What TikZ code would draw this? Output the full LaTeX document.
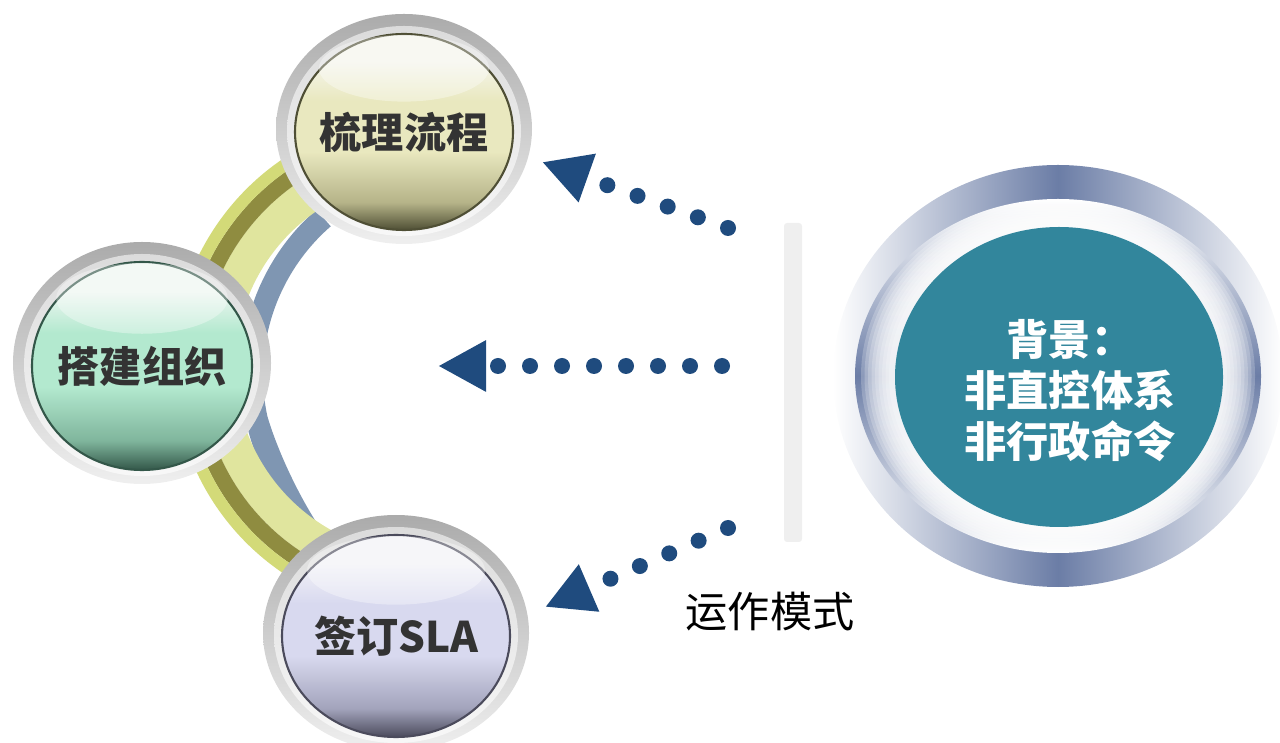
\documentclass[tikz,border=0pt]{standalone}
\usepackage{fontspec}
\newfontfamily\cjk{Noto Sans CJK SC}
\usetikzlibrary{shapes.geometric,arrows.meta}

\definecolor{dotblue}{HTML}{1F4B7E}
\definecolor{bandouter}{HTML}{D3DA78}
\definecolor{bandolive}{HTML}{8F8C40}
\definecolor{bandlight}{HTML}{E0E59E}
\definecolor{arcblue}{HTML}{7F96B2}
\definecolor{slate}{HTML}{6B7DA6}
\definecolor{tealcore}{HTML}{32869C}
\definecolor{bargray}{HTML}{EFEFEF}
\definecolor{textdark}{HTML}{333333}
\definecolor{rimdark}{HTML}{ABABAB}
\definecolor{rimlight}{HTML}{EFEFEF}
% ball colours: light, base, lower, dark
\definecolor{yl}{HTML}{F5F5EC}\definecolor{yb}{HTML}{E9E8BF}
\definecolor{ylo}{HTML}{B5B388}\definecolor{yd}{HTML}{4F4F35}
\definecolor{gl}{HTML}{EEF6F1}\definecolor{gb}{HTML}{B3E9CF}
\definecolor{glo}{HTML}{7FB59C}\definecolor{gd}{HTML}{335749}
\definecolor{ll}{HTML}{F2F2F7}\definecolor{lb}{HTML}{D8D9EF}
\definecolor{llo}{HTML}{A2A3BB}\definecolor{ld}{HTML}{4B4B5C}

\pgfdeclareverticalshading{glassyellow}{100bp}{color(0bp)=(yd); color(25bp)=(yd);
  color(32bp)=(ylo); color(45bp)=(yb); color(58bp)=(yb); color(68bp)=(yl); color(100bp)=(yl)}
\pgfdeclareverticalshading{glassgreen}{100bp}{color(0bp)=(gd); color(25bp)=(gd);
  color(32bp)=(glo); color(45bp)=(gb); color(58bp)=(gb); color(68bp)=(gl); color(100bp)=(gl)}
\pgfdeclareverticalshading{glasslilac}{100bp}{color(0bp)=(ld); color(25bp)=(ld);
  color(32bp)=(llo); color(45bp)=(lb); color(58bp)=(lb); color(68bp)=(ll); color(100bp)=(ll)}

\tikzset{
  ballrim/.style={ellipse, inner sep=0pt, top color=rimdark, bottom color=rimlight},
  ballring/.style={ellipse, inner sep=0pt, top color=black!14, bottom color=black!3},
  ballcore/.style={ellipse, inner sep=0pt, line width=0.6pt},
  ballgloss/.style={ellipse, inner sep=0pt, fill=white, fill opacity=0.35},
  balltext/.style={font=\cjk\bfseries\fontsize{12pt}{14pt}\selectfont, text=textdark},
  bgring/.style={ellipse, inner sep=0pt},
  bgtext/.style={font=\cjk\bfseries\fontsize{12pt}{14.5pt}\selectfont, text=white, align=center},
  modefont/.style={font=\cjk\fontsize{12pt}{14pt}\selectfont, text=black},
  dotarrow/.style={draw=dotblue, line width=0.16cm, line cap=round,
    dash pattern=on 0pt off 0.32cm, -{Triangle[length=0.48cm,width=0.48cm]}}
}

% #1 name, (#2,#3) centre, #4/#5 radii, #6 shading, #7 edge colour, #8 text
\def\glassball(#1,#2,#3,#4,#5,#6,#7,#8){
  \node[ballrim, minimum width=2*#4cm+0.38cm, minimum height=2*#5cm+0.34cm, yshift=0.03cm] (#1_rim) at (#2,#3) {};
  \node[ballring, minimum width=2*#4cm+0.16cm, minimum height=2*#5cm+0.14cm, yshift=0.01cm] (#1_ring) at (#2,#3) {};
  \node[ballcore, shading=#6, draw=#7, minimum width=2*#4cm, minimum height=2*#5cm] (#1) at (#2,#3) {};
  \node[ballgloss, minimum width=1.56*#4cm, minimum height=0.68*#5cm] (#1_gloss) at (#2,#3+0.65*#5) {};
  \node[balltext] (#1_text) at (#2,#3) {#8};
}

\begin{document}
\begin{tikzpicture}
\useasboundingbox (0,0) rectangle (12.8,-7.43);

% arc behind the balls
\fill[arcblue] ([shift={(131:2.19)}]4.60,-3.75) arc[start angle=131, end angle=240, radius=2.19]
  .. controls ([shift={(228:2.15)}]4.60,-3.75) and ([shift={(205:1.99)}]4.60,-3.75) .. ([shift={(192:1.97)}]4.60,-3.75)
  arc[start angle=192, end angle=131, radius=1.97] -- cycle;
\foreach \ri/\ro/\c in {1.88/2.22/bandlight, 2.22/2.38/bandolive, 2.38/2.50/bandouter}
  \fill[\c] ([shift={(100:\ro)}]4.23,-3.66) arc[start angle=100, end angle=252, radius=\ro]
    -- ([shift={(252:\ri)}]4.23,-3.66) arc[start angle=252, end angle=100, radius=\ri] -- cycle;

% the three balls
\glassball(flow,4.04,-1.32,1.09,0.98,glassyellow,yd,梳理流程)
\glassball(org,1.42,-3.66,1.10,1.04,glassgreen,gd,搭建组织)
\glassball(sla,3.96,-6.36,1.14,1.01,glasslilac,ld,签订SLA)

% background circle
\fill[bargray, rounded corners=0.03cm] (7.84,-2.23) rectangle (8.02,-5.42);
\node[bgring, left color=white, right color=white, middle color=slate,
  minimum width=4.50cm, minimum height=4.22cm] (bg_outer) at (10.58,-3.76) {};
\node[bgring, top color=white, bottom color=white, middle color=slate,
  minimum width=4.06cm, minimum height=3.54cm] (bg_mid) at (10.58,-3.76) {};
\foreach \k in {0,...,8}
  \fill[white, opacity=0.22] (10.58,-3.76) ellipse[x radius=1.97-0.035*\k, y radius=1.75-0.025*\k];
\node[bgring, fill=tealcore, minimum width=3.28cm, minimum height=3.00cm] (bg_core) at (10.59,-3.77) {};
\node[bgtext] (bg_text) at (10.70,-3.91) {背景：\\非直控体系\\非行政命令};

% dotted arrows
\coordinate (s1) at (7.28,-2.28); \coordinate (t1) at (5.42,-1.62);
\coordinate (s2) at (7.22,-3.66); \coordinate (t2) at (4.38,-3.66);
\coordinate (s3) at (7.28,-5.28); \coordinate (t3) at (5.45,-6.07);
\draw[dotarrow] (s1) -- (t1);
\draw[dotarrow] (s2) -- (t2);
\draw[dotarrow] (s3) -- (t3);

\node[modefont] (mode_label) at (7.70,-6.12) {运作模式};
\end{tikzpicture}
\end{document}
